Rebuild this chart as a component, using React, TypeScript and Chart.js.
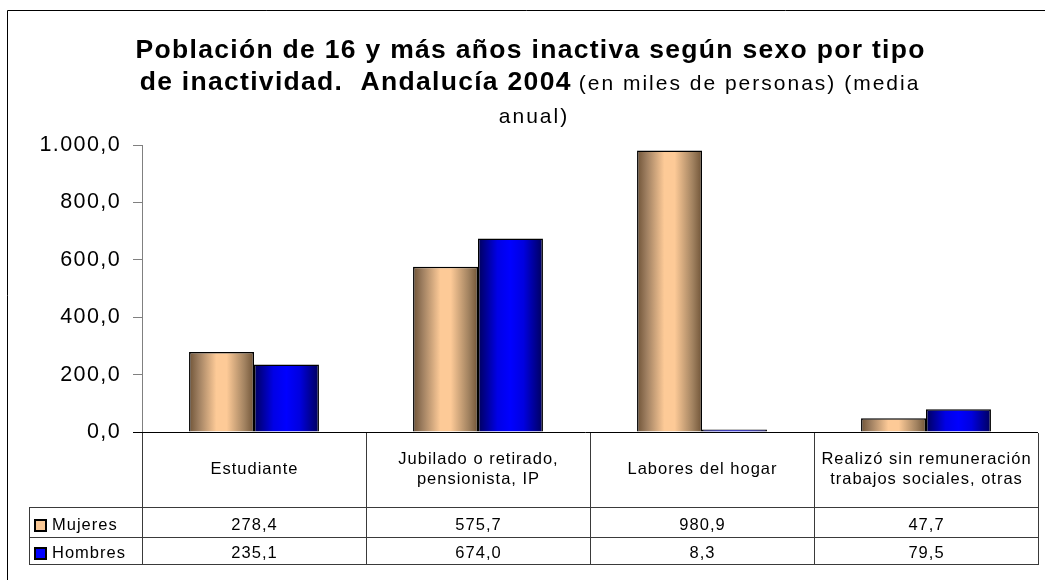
import React, { useEffect, useRef } from "react";
import { Chart, registerables } from "chart.js";

Chart.register(...registerables);

// ---------- data ----------
const categories = [
  "Estudiante",
  "Jubilado o retirado, pensionista, IP",
  "Labores del hogar",
  "Realizó sin remuneración trabajos sociales, otras",
];
const categoryLines = [
  ["Estudiante"],
  ["Jubilado o retirado,", "pensionista, IP"],
  ["Labores del hogar"],
  ["Realizó sin remuneración", "trabajos sociales, otras"],
];
const seriesNames = ["Mujeres", "Hombres"];
const mujeres = [278.4, 575.7, 980.9, 47.7];
const hombres = [235.1, 674.0, 8.3, 79.5];
const yMin = 0;
const yMax = 1000;
const yStep = 200;
const titleLine1 = "Población de 16 y más años inactiva según sexo por tipo";
const titleLine2Bold = "de inactividad.  Andalucía 2004";
const titleLine2Normal = "(en miles de personas) (media";
const titleLine3 = "anual)";

// ---------- style ----------
const FONT = "'Liberation Sans', Arial, Helvetica, sans-serif";
const W = 1045;
const H = 580;
const CAT_PCT = 0.58;
const AXIS_LEFT = 142;
const PLOT_TOP = 145;
const PLOT_BOTTOM = 432;
const PLOT_RIGHT = 1038;
const ROW_CAT_BOTTOM = 507;
const ROW1_BOTTOM = 537;
const ROW2_BOTTOM = 564;
const TABLE_LEFT = 29;
const TITLE_CX = 530;
const TICK_SPACING = "1.4px";

const MUJ_STOPS: [number, string][] = [
  [0, "#705437"],
  [0.14, "#9c7d5f"],
  [0.42, "#fdca97"],
  [0.58, "#fdca97"],
  [0.86, "#a0815f"],
  [1, "#705437"],
];
const HOM_STOPS: [number, string][] = [
  [0, "#00005c"],
  [0.3, "#0000e6"],
  [0.5, "#0000ff"],
  [0.7, "#0000e0"],
  [1, "#00005c"],
];
const SERIES_SWATCH = ["#f9c896", "#0000ff"];

function fmt(v: number): string {
  const [i, d] = v.toFixed(1).split(".");
  return i.replace(/\B(?=(\d{3})+(?!\d))/g, ".") + "," + d;
}

function gradientFor(stops: [number, string][], fallback: string) {
  return (c: any) => {
    const chart = c.chart;
    const xs = chart.scales && chart.scales.x;
    if (!xs || !chart.chartArea || c.type !== "data") return fallback;
    const n = chart.data.labels.length;
    const catW = (xs.right - xs.left) / n;
    const groupW = catW * CAT_PCT;
    const barW = groupW / chart.data.datasets.length;
    const center = xs.getPixelForValue(c.dataIndex);
    const left = center - groupW / 2 + c.datasetIndex * barW;
    const g = chart.ctx.createLinearGradient(left, 0, left + barW, 0);
    stops.forEach(([o, col]) => g.addColorStop(o, col));
    return g;
  };
}

function drawText(
  ctx: CanvasRenderingContext2D,
  s: string,
  x: number,
  y: number,
  font: string,
  align: CanvasTextAlign,
  spacing: number
) {
  ctx.font = font;
  (ctx as any).letterSpacing = spacing + "px";
  ctx.textAlign = align;
  ctx.textBaseline = "alphabetic";
  ctx.fillStyle = "#000";
  ctx.fillText(s, align === "center" ? x + spacing / 2 : x, y);
}

const decorPlugin = {
  id: "decor",
  beforeDraw(chart: any) {
    const ctx = chart.ctx;
    ctx.save();
    ctx.fillStyle = "#ffffff";
    ctx.fillRect(0, 0, chart.width, chart.height);
    ctx.restore();
    (ctx as any).letterSpacing = TICK_SPACING;
  },
  beforeDatasetsDraw(chart: any) {
    (chart.ctx as any).letterSpacing = "0px";
  },
  afterDraw(chart: any) {
    const ctx: CanvasRenderingContext2D = chart.ctx;
    const xs = chart.scales.x;
    const ys = chart.scales.y;
    ctx.save();

    // outer frame
    ctx.strokeStyle = "#000";
    ctx.lineWidth = 1;
    ctx.beginPath();
    ctx.moveTo(7.5, H);
    ctx.lineTo(7.5, 10.5);
    ctx.lineTo(W, 10.5);
    ctx.stroke();

    // title
    const boldFont = `bold 26.5px ${FONT}`;
    const normFont = `21px ${FONT}`;
    drawText(ctx, titleLine1, TITLE_CX, 58, boldFont, "center", 1.3);
    ctx.font = boldFont;
    (ctx as any).letterSpacing = "1.3px";
    const w1 = ctx.measureText(titleLine2Bold).width;
    ctx.font = normFont;
    (ctx as any).letterSpacing = "2px";
    const w2 = ctx.measureText(titleLine2Normal).width;
    const gap = 7;
    const start = TITLE_CX - (w1 + gap + w2) / 2;
    drawText(ctx, titleLine2Bold, start, 90, boldFont, "left", 1.3);
    drawText(ctx, titleLine2Normal, start + w1 + gap, 90, normFont, "left", 2);
    drawText(ctx, titleLine3, TITLE_CX + 3, 123, normFont, "center", 2);

    // axis base line
    const y0 = Math.round(ys.getPixelForValue(0)) + 0.5;
    ctx.strokeStyle = "#000";
    ctx.lineWidth = 1;
    ctx.beginPath();
    ctx.moveTo(AXIS_LEFT - 9, y0);
    ctx.lineTo(xs.right, y0);
    ctx.stroke();

    // data table grid
    const n = categories.length;
    const catW = (xs.right - xs.left) / n;
    ctx.strokeStyle = "#3a3a3a";
    ctx.beginPath();
    for (const yy of [ROW_CAT_BOTTOM, ROW1_BOTTOM, ROW2_BOTTOM]) {
      ctx.moveTo(TABLE_LEFT, yy + 0.5);
      ctx.lineTo(xs.right + 1, yy + 0.5);
    }
    ctx.moveTo(TABLE_LEFT + 0.5, ROW_CAT_BOTTOM);
    ctx.lineTo(TABLE_LEFT + 0.5, ROW2_BOTTOM + 1);
    for (let i = 0; i <= n; i++) {
      const bx = Math.round(xs.left + i * catW) + 0.5;
      ctx.moveTo(bx, PLOT_BOTTOM + 1);
      ctx.lineTo(bx, ROW2_BOTTOM + 1);
    }
    ctx.stroke();

    // category labels
    const tFont = `16.5px ${FONT}`;
    const tSp = 1;
    categoryLines.forEach((lines, i) => {
      const cx = xs.getPixelForValue(i);
      if (lines.length === 1) {
        drawText(ctx, lines[0], cx, 474, tFont, "center", tSp);
      } else {
        drawText(ctx, lines[0], cx, 464, tFont, "center", tSp);
        drawText(ctx, lines[1], cx, 484, tFont, "center", tSp);
      }
    });

    // values rows + legend keys
    const rows = [mujeres, hombres];
    const baselines = [530, 558];
    rows.forEach((vals, r) => {
      vals.forEach((v, i) => {
        drawText(ctx, fmt(v), xs.getPixelForValue(i), baselines[r], tFont, "center", tSp);
      });
      const sy = baselines[r] - 10;
      ctx.fillStyle = SERIES_SWATCH[r];
      ctx.fillRect(35, sy, 11, 11);
      ctx.strokeStyle = "#000";
      ctx.lineWidth = 2;
      ctx.strokeRect(35, sy, 11, 11);
      drawText(ctx, seriesNames[r], 52, baselines[r], tFont, "left", tSp);
    });

    ctx.restore();
    (ctx as any).letterSpacing = "0px";
  },
};

export default function App() {
  const ref = useRef<HTMLCanvasElement | null>(null);

  useEffect(() => {
    if (!ref.current) return;
    const chart = new Chart(ref.current, {
      type: "bar",
      data: {
        labels: categories,
        datasets: [
          {
            label: seriesNames[0],
            data: mujeres,
            backgroundColor: gradientFor(MUJ_STOPS, "#fdca97") as any,
            borderColor: "#000",
            borderWidth: 1.5,
          },
          {
            label: seriesNames[1],
            data: hombres,
            backgroundColor: gradientFor(HOM_STOPS, "#0000ff") as any,
            borderColor: "#000",
            borderWidth: 1.5,
          },
        ],
      },
      options: {
        responsive: false,
        animation: false,
        devicePixelRatio: 1,
        datasets: {
          bar: { categoryPercentage: CAT_PCT, barPercentage: 1 },
        },
        layout: {
          padding: {
            left: 0,
            top: PLOT_TOP,
            right: W - PLOT_RIGHT,
            bottom: H - PLOT_BOTTOM,
          },
        },
        plugins: {
          legend: { display: false },
          title: { display: false },
          tooltip: { enabled: false },
        },
        scales: {
          x: {
            display: false,
          },
          y: {
            min: yMin,
            max: yMax,
            afterFit: (s: any) => {
              s.width = AXIS_LEFT;
            },
            ticks: {
              stepSize: yStep,
              callback: (v: any) => fmt(Number(v)),
              font: { family: FONT, size: 21.5 },
              color: "#000",
              padding: 12,
            },
            grid: {
              drawOnChartArea: false,
              drawTicks: true,
              tickLength: 9,
              color: "#808080",
            },
            border: { display: true, color: "#808080", width: 1 },
          },
        },
      },
      plugins: [decorPlugin],
    });
    return () => chart.destroy();
  }, []);

  return (
    <div style={{ position: "absolute", left: 0, top: 0, width: W, height: H, background: "#fff" }}>
      <canvas ref={ref} width={W} height={H} style={{ display: "block" }} />
    </div>
  );
}
